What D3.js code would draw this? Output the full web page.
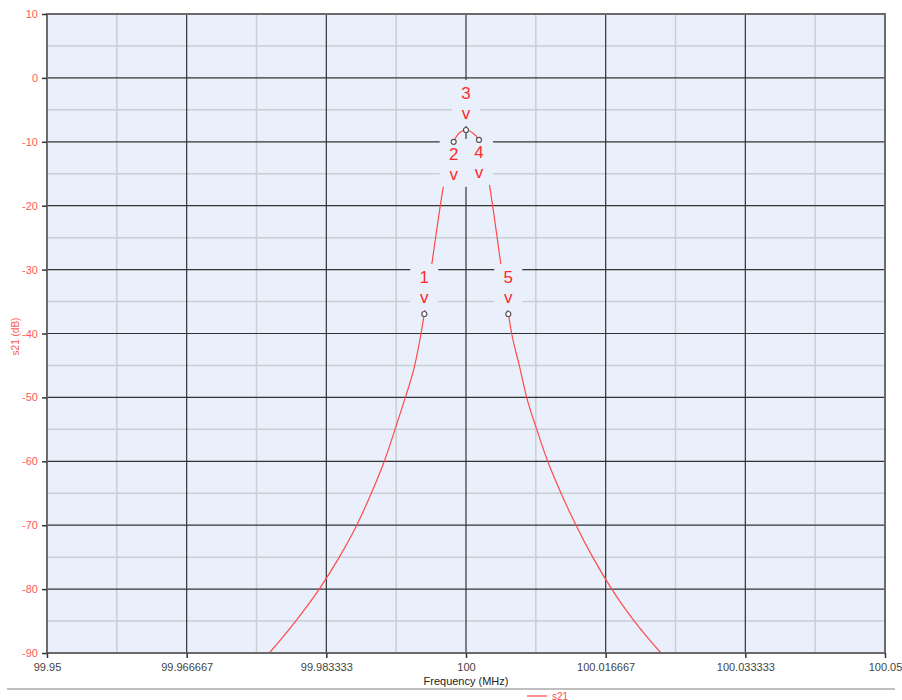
<!DOCTYPE html>
<html lang="en">
<head>
<meta charset="UTF-8">
<title>s21</title>
<style>
  body { margin: 0; background: #fff; }
  text { font-family: "Liberation Sans", Arial, sans-serif; }
</style>
</head>
<body>
<script src="https://d3js.org/d3.v7.min.js"></script>
<script>
// curve s21
var freqMHz = [99.97653, 99.97968, 99.98249, 99.98488, 99.98696, 99.98870, 99.99025, 99.99153,
               99.99276, 99.99388, 99.99463, 99.99502, 99.99853, 99.99916, 100.00000, 100.00084,
               100.00155, 100.00505, 100.00545, 100.00636, 100.00724, 100.00844, 100.00975,
               100.01134, 100.01313, 100.01512, 100.01739, 100.02008, 100.02327];
var s21dB = [-90, -85, -80, -75, -70, -65, -60, -55,
             -50, -45, -40, -36.95, -10.0, -8.67, -8.15, -8.67,
             -9.7, -36.95, -40, -45, -50, -55, -60,
             -65, -70, -75, -80, -85, -90];

// markers
var markerNames = ["1", "2", "3", "4", "5"];
var markerFreq = [99.99502, 99.99853, 100.00000, 100.00155, 100.00505];
var markerDb = [-36.95, -10.0, -8.15, -9.7, -36.95];

// ticks
var xTicks = [99.95, 99.966667, 99.983333, 100, 100.016667, 100.033333, 100.05];
var xTickLabels = ["99.95", "99.966667", "99.983333", "100", "100.016667", "100.033333", "100.05"];
var xMinor = [99.958333, 99.975, 99.991667, 100.008333, 100.025, 100.041667];
var yTicks = [10, 0, -10, -20, -30, -40, -50, -60, -70, -80, -90];
var yMinor = [5, -5, -15, -25, -35, -45, -55, -65, -75, -85];

var W = 902, H = 700;
var pL = 47, pT = 14, pR = 885, pB = 653;
var bg = "#eaf0fb", red = "#ff2a2a";

var svg = d3.select("body").append("svg").attr("width", W).attr("height", H);

var x = d3.scaleLinear().domain([99.95, 100.05]).range([pL, pR]);
var y = d3.scaleLinear().domain([-90, 10]).range([pB, pT]);

svg.append("rect").attr("x", pL).attr("y", pT)
  .attr("width", pR - pL).attr("height", pB - pT).attr("fill", bg);

// grid
var grid = svg.append("g");
grid.selectAll(".xm").data(xMinor).enter().append("line")
  .attr("x1", d => x(d)).attr("x2", d => x(d)).attr("y1", pT).attr("y2", pB)
  .attr("stroke", "#c9cdd4").attr("stroke-width", 1.5);
grid.selectAll(".ym").data(yMinor).enter().append("line")
  .attr("y1", d => y(d)).attr("y2", d => y(d)).attr("x1", pL).attr("x2", pR)
  .attr("stroke", "#c9cdd4").attr("stroke-width", 1.5);
grid.selectAll(".xM").data(xTicks).enter().append("line")
  .attr("x1", d => x(d)).attr("x2", d => x(d)).attr("y1", pT).attr("y2", pB)
  .attr("stroke", "#333").attr("stroke-width", 1.2);
grid.selectAll(".yM").data(yTicks).enter().append("line")
  .attr("y1", d => y(d)).attr("y2", d => y(d)).attr("x1", pL).attr("x2", pR)
  .attr("stroke", "#333").attr("stroke-width", 1.2);

// curve
svg.append("clipPath").attr("id", "clip").append("rect")
  .attr("x", pL).attr("y", pT).attr("width", pR - pL).attr("height", pB - pT);
var pts = freqMHz.map((f, i) => [f, s21dB[i]]);
var line = d3.line().x(d => x(d[0])).y(d => y(d[1])).curve(d3.curveMonotoneX);
svg.append("path").datum(pts).attr("clip-path", "url(#clip)")
  .attr("d", line).attr("fill", "none").attr("stroke", "#ff4a4a").attr("stroke-width", 1.2);

// frame
svg.append("rect").attr("x", pL).attr("y", pT)
  .attr("width", pR - pL).attr("height", pB - pT)
  .attr("fill", "none").attr("stroke", "#6a6a6a").attr("stroke-width", 2);

// axes
var yAxis = svg.append("g").attr("transform", "translate(" + pL + ",0)")
  .call(d3.axisLeft(y).tickValues(yTicks).tickSize(5).tickPadding(4).tickFormat(d => String(d)));
yAxis.select(".domain").remove();
yAxis.selectAll("line").attr("stroke", "#333").attr("stroke-width", 1.5);
yAxis.selectAll("text").attr("fill", "#ff5a5a").style("font-size", "11px")
  .style("font-family", "'Liberation Sans', Arial, sans-serif");

var xAxis = svg.append("g").attr("transform", "translate(0," + pB + ")")
  .call(d3.axisBottom(x).tickValues(xTicks).tickSize(5).tickPadding(5)
    .tickFormat((d, i) => xTickLabels[i]));
xAxis.select(".domain").remove();
xAxis.selectAll("line").attr("stroke", "#333").attr("stroke-width", 1.5);
xAxis.selectAll("text").attr("fill", "#444").style("font-size", "11px")
  .style("font-family", "'Liberation Sans', Arial, sans-serif");

// marker labels (2 and 4 sit below their points)
var below = { "2": true, "4": true };
var markers = markerNames.map((n, i) => ({ n: n, f: markerFreq[i], db: markerDb[i] }));
var lab = svg.append("g");
markers.forEach(function (m) {
  var cx = x(m.f), cy = y(m.db);
  var boxTop = below[m.n] ? cy - 1 : cy - 50;
  lab.append("rect").attr("x", cx - 14).attr("y", boxTop).attr("width", 28).attr("height", 46)
    .attr("fill", bg);
});
markers.forEach(function (m) {
  var cx = x(m.f), cy = y(m.db);
  var boxTop = below[m.n] ? cy - 1 : cy - 50;
  lab.append("text").attr("x", cx).attr("y", boxTop + 19).attr("text-anchor", "middle")
    .attr("fill", red).style("font-size", "17px").text(m.n);
  lab.append("text").attr("x", cx).attr("y", boxTop + 39).attr("text-anchor", "middle")
    .attr("fill", red).style("font-size", "17px").text("v");
});
svg.selectAll(".mk").data(markers).enter().append("circle")
  .attr("cx", d => x(d.f)).attr("cy", d => y(d.db)).attr("r", 2.5)
  .attr("fill", "#fff").attr("stroke", "#555").attr("stroke-width", 1.2);

// titles
svg.append("text").attr("transform", "translate(19," + ((pT + pB) / 2 + 3) + ") rotate(-90)")
  .attr("text-anchor", "middle").attr("fill", "#ff5a5a").style("font-size", "10px").text("s21 (dB)");
svg.append("text").attr("x", (pL + pR) / 2).attr("y", 685).attr("text-anchor", "middle")
  .attr("fill", "#222").style("font-size", "11px").text("Frequency (MHz)");

// separator + legend
svg.append("line").attr("x1", 7).attr("x2", 895).attr("y1", 689).attr("y2", 689)
  .attr("stroke", "#aaa").attr("stroke-width", 1.5);
svg.append("line").attr("x1", 527).attr("x2", 547).attr("y1", 696).attr("y2", 696)
  .attr("stroke", "#ff4a4a").attr("stroke-width", 1.2);
svg.append("text").attr("x", 552).attr("y", 699.5).attr("fill", "#ff4a4a")
  .style("font-size", "10px").text("s21");
</script>
</body>
</html>
